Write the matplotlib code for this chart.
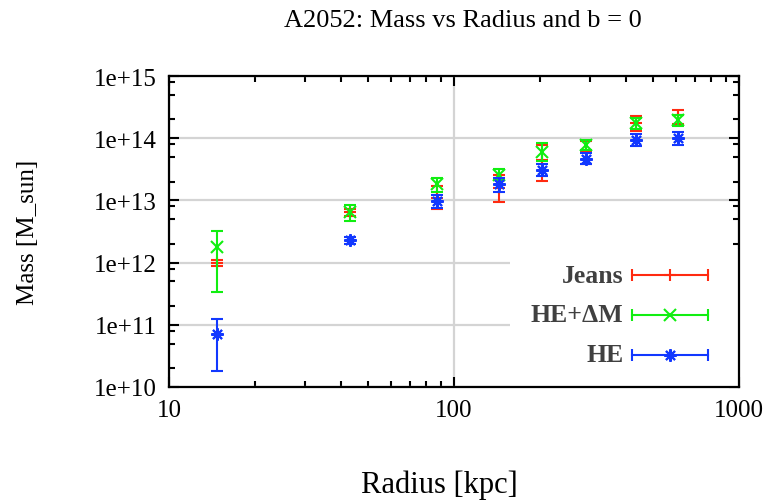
import matplotlib
matplotlib.use('Agg')
import matplotlib.pyplot as plt
from matplotlib.patches import Rectangle
from matplotlib.ticker import FixedLocator, NullFormatter, LogLocator
import numpy as np

# radius bins [kpc]
radius = [14.7, 43.0, 87.5, 144, 204, 291, 434, 611]

# Jeans mass with lower / upper bounds
jeans = [1.0e12, 6.4e12, 1.1e13, 1.6e13, 4.5e13, 6.3e13, 1.75e14, 2.35e14]
jeans_lo = [0.88e12, 5.6e12, 7.2e12, 9.5e12, 2.06e13, 3.8e13, 1.32e14, 1.69e14]
jeans_hi = [1.12e12, 7.4e12, 1.7e13, 2.6e13, 7.7e13, 9.0e13, 2.3e14, 2.8e14]

# HE + delta M
hedm = [1.78e12, 6.4e12, 1.82e13, 2.6e13, 6.05e13, 7.7e13, 1.73e14, 1.96e14]
hedm_lo = [3.4e11, 4.7e12, 1.39e13, 2.1e13, 4.3e13, 6.5e13, 1.4e14, 1.58e14]
hedm_hi = [3.2e12, 8.5e12, 2.28e13, 3.2e13, 8.3e13, 9.4e13, 2.08e14, 2.35e14]

# hydrostatic equilibrium
he = [7.1e10, 2.3e12, 9.7e12, 1.82e13, 3.1e13, 4.7e13, 9.4e13, 9.9e13]
he_lo = [1.8e10, 2.0e12, 7.5e12, 1.39e13, 2.5e13, 3.8e13, 7.6e13, 7.7e13]
he_hi = [1.24e11, 2.6e12, 1.23e13, 2.25e13, 3.8e13, 5.75e13, 1.16e14, 1.24e14]

xticks = [10, 100, 1000]
xtick_labels = ['10', '100', '1000']
yticks = [1e10, 1e11, 1e12, 1e13, 1e14, 1e15]
ytick_labels = ['1e+10', '1e+11', '1e+12', '1e+13', '1e+14', '1e+15']

labels = ['Jeans', 'HE+\u0394M', 'HE']
colors = ['#ff2a10', '#11ee11', '#1238ff']
asterisk = (8, 2, 0)
markers = ['+', 'x', asterisk]

plt.rcParams['font.family'] = ['Liberation Serif', 'DejaVu Serif']
FS = 18

fig = plt.figure(figsize=(7.69, 5.02), dpi=100)
ax = fig.add_axes([0.2198, 0.2271, 0.7412, 0.6195])
ax.set_xscale('log')
ax.set_yscale('log')
ax.set_xlim(10, 1000)
ax.set_ylim(1e10, 1e15)

series = [(jeans, jeans_lo, jeans_hi), (hedm, hedm_lo, hedm_hi), (he, he_lo, he_hi)]
for k, (val, lo, hi) in enumerate(series):
    val = np.array(val)
    yerr = [val - np.array(lo), np.array(hi) - val]
    ax.errorbar(radius, val, yerr=yerr, fmt='none', ecolor=colors[k],
                elinewidth=1.5, capsize=4.6, capthick=1.5, zorder=4 + k)
    ax.plot(radius, val, linestyle='none', marker=markers[k], color=colors[k],
            markersize=9, markeredgewidth=1.5, zorder=4 + k)

# grid
ax.set_axisbelow(True)
ax.grid(True, which='major', color='#d4d4d4', linewidth=1.6)

ax.xaxis.set_major_locator(FixedLocator(xticks))
ax.set_xticklabels(xtick_labels)
ax.yaxis.set_major_locator(FixedLocator(yticks))
ax.set_yticklabels(ytick_labels)
ax.xaxis.set_minor_locator(LogLocator(base=10, subs=np.arange(2, 10)))
ax.yaxis.set_minor_locator(LogLocator(base=10, subs=[2, 5, 8]))
ax.xaxis.set_minor_formatter(NullFormatter())
ax.yaxis.set_minor_formatter(NullFormatter())
ax.tick_params(which='both', direction='in', top=True, right=True, width=1.5, color='black')
ax.tick_params(which='major', length=7, labelsize=FS, pad=9)
ax.tick_params(which='minor', length=4)
for s in ax.spines.values():
    s.set_linewidth(1.6)
    s.set_zorder(10)

ax.set_title('A2052: Mass vs Radius and b = 0', fontsize=19, pad=36, x=0.516)
ax.set_xlabel('Radius [kpc]', fontsize=22)
ax.xaxis.set_label_coords(0.475, -0.265)
ax.set_ylabel('Mass [M_sun]', fontsize=FS, labelpad=39)

# key, drawn gnuplot style
ax.add_patch(Rectangle((0.598, 0.0), 0.402, 0.444, transform=ax.transAxes,
                       facecolor='white', edgecolor='none', zorder=2))
key_y = [0.360, 0.2325, 0.103]
for k in range(3):
    y = key_y[k]
    ax.text(0.797, y, labels[k], transform=ax.transAxes, ha='right', va='center',
            fontsize=18.5, fontweight='bold', color='#404040', zorder=3)
    ax.plot([0.812, 0.946], [y, y], transform=ax.transAxes, color=colors[k],
            linewidth=1.5, zorder=3)
    ax.plot([0.812, 0.946], [y, y], transform=ax.transAxes, color=colors[k],
            linestyle='none', marker='|', markersize=9, markeredgewidth=1.5, zorder=3)
    ax.plot([0.879], [y], transform=ax.transAxes, color=colors[k], linestyle='none',
            marker=markers[k], markersize=9, markeredgewidth=1.5, zorder=3)

fig.savefig('out.png', dpi=100)
